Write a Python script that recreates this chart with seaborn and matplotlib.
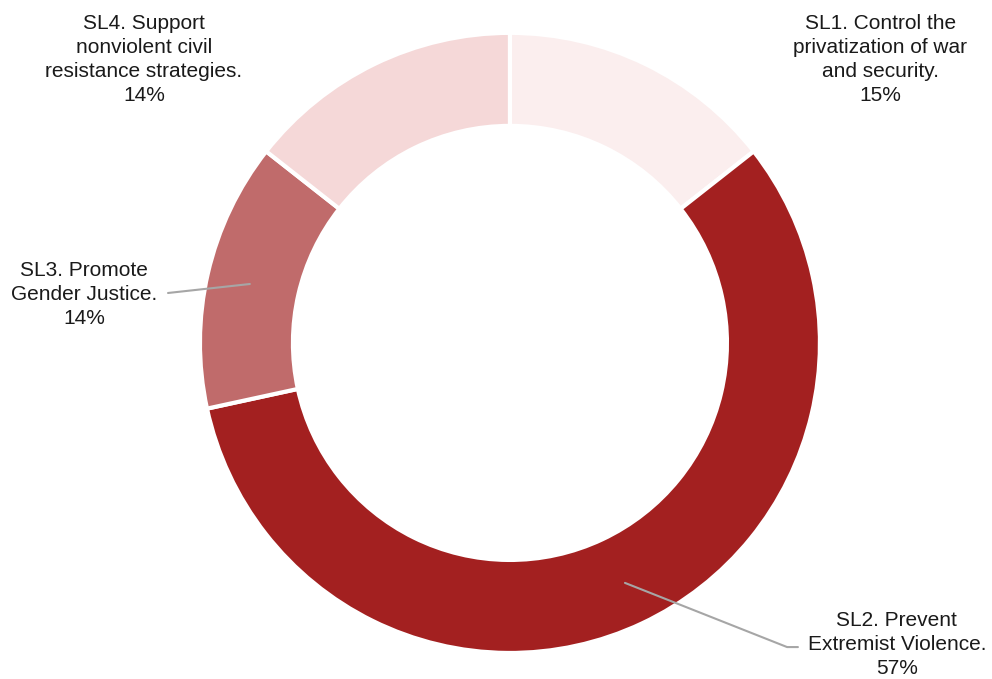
import matplotlib.pyplot as plt
import seaborn as sns

labels = ["SL1. Control the\nprivatization of war\nand security.",
          "SL2. Prevent\nExtremist Violence.",
          "SL3. Promote\nGender Justice.",
          "SL4. Support\nnonviolent civil\nresistance strategies."]
shares = [14.4, 57.2, 14.0, 14.4]
pct_text = ["15%", "57%", "14%", "14%"]
colors = ["#FBEEEE", "#A32020", "#C06B6B", "#F5D8D8"]

sns.set_theme(style="white")
plt.rcParams['font.family'] = ['Liberation Sans', 'DejaVu Sans']

fig = plt.figure(figsize=(9.92, 6.79), dpi=100)
ax = fig.add_axes([0, 0, 1, 1])
ax.pie(shares, colors=colors, startangle=90, counterclock=False,
       radius=1, wedgeprops=dict(width=0.30, edgecolor="white", linewidth=3))
ax.set_xlim(-1.645, 1.555)
ax.set_ylim(-1.084, 1.106)
ax.set_aspect("auto")
ax.axis("off")

# label positions (data coords, radius = 1)
label_pos = [(1.194, 0.913), (1.248, -0.974), (-1.374, 0.155), (-1.181, 0.913)]
for lab, pct, (x, y) in zip(labels, pct_text, label_pos):
    ax.text(x, y, f"{lab}\n{pct}", ha="center", va="center",
            fontsize=15, color="#1a1a1a", linespacing=1.33)

# leader lines
ax.plot([-0.839, -1.103], [0.190, 0.161], color="#A6A6A6", lw=1.5)
ax.plot([0.371, 0.894, 0.929], [-0.774, -0.981, -0.981], color="#A6A6A6", lw=1.5)

plt.savefig("out.png", dpi=100)
